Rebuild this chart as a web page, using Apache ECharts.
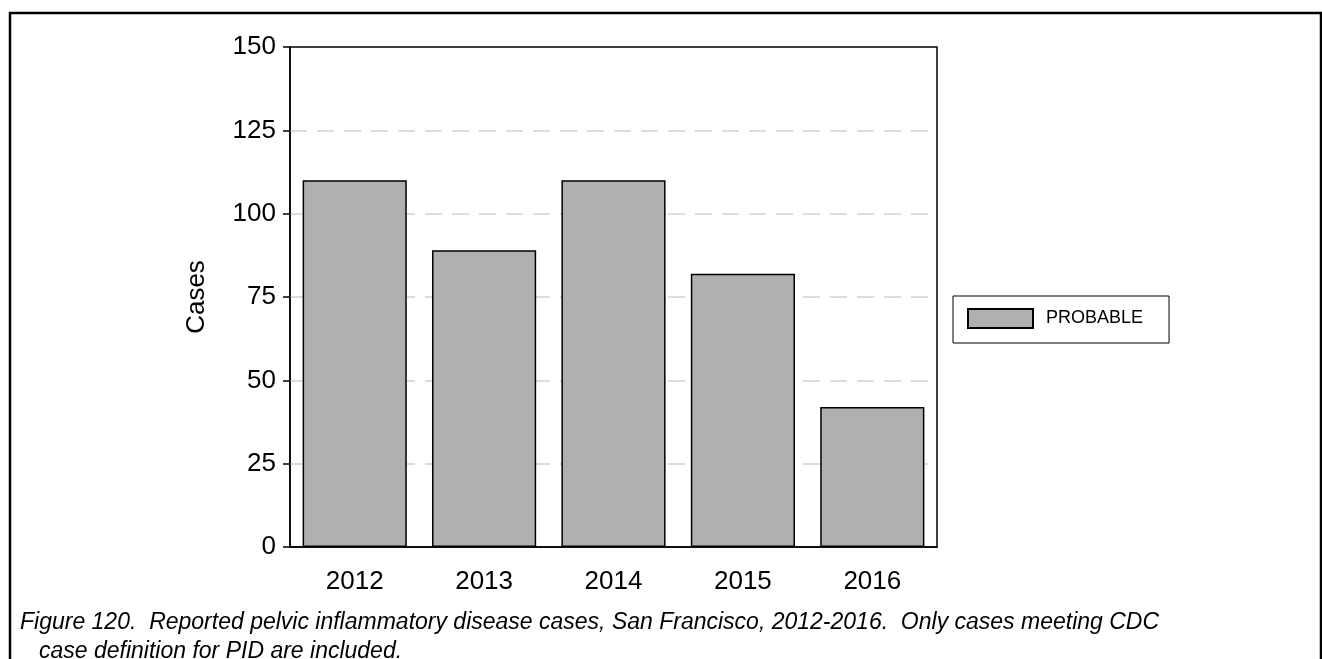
<!DOCTYPE html>
<html>
<head>
<meta charset="utf-8">
<script src="https://cdn.jsdelivr.net/npm/echarts@6/dist/echarts.min.js"></script>
<style>
html,body{margin:0;padding:0;background:#fff;}
#chart{width:1322px;height:659px;}
</style>
</head>
<body>
<div id="chart"></div>
<script>
const years = ['2012', '2013', '2014', '2015', '2016'];
const probable = [110, 89, 110, 82, 42];
const yTicks = [0, 25, 50, 75, 100, 125, 150];
const seriesName = 'PROBABLE';
const yAxisTitle = 'Cases';
const captionLine1 = 'Figure 120.  Reported pelvic inflammatory disease cases, San Francisco, 2012-2016.  Only cases meeting CDC';
const captionLine2 = 'case definition for PID are included.';

const FONT = '"Liberation Sans", Arial, sans-serif';
const chart = echarts.init(document.getElementById('chart'), null, {renderer: 'canvas'});
chart.setOption({
  animation: false,
  backgroundColor: '#ffffff',
  textStyle: {fontFamily: FONT},
  grid: {
    left: 290, top: 47, width: 647, height: 500,
    show: true, borderColor: '#000', borderWidth: 1.5, backgroundColor: 'transparent'
  },
  legend: {
    data: [seriesName],
    left: 953, top: 296,
    orient: 'vertical',
    padding: [12, 26, 14, 14],
    borderColor: '#000', borderWidth: 1,
    itemWidth: 65, itemHeight: 19,
    icon: 'rect',
    textStyle: {fontFamily: FONT, fontSize: 18, color: '#000', padding: [0, 0, 0, 8]}
  },
  xAxis: {
    type: 'category',
    data: years,
    axisLine: {show: true, lineStyle: {color: '#000', width: 1.5}},
    axisTick: {show: false},
    axisLabel: {fontFamily: FONT, fontSize: 26, color: '#000', margin: 22},
    splitLine: {show: false}
  },
  yAxis: {
    type: 'value',
    min: yTicks[0], max: yTicks[yTicks.length - 1], interval: 25,
    name: yAxisTitle,
    nameLocation: 'middle',
    nameGap: 80,
    nameTextStyle: {fontFamily: FONT, fontSize: 26, color: '#000'},
    axisLine: {show: true, lineStyle: {color: '#000', width: 1.5}},
    axisTick: {show: true, length: 7, lineStyle: {color: '#000', width: 1.5}},
    axisLabel: {fontFamily: FONT, fontSize: 26, color: '#000', margin: 14},
    splitLine: {show: true, showMinLine: false, showMaxLine: false,
                lineStyle: {color: '#dcdcdc', width: 2, type: [17, 10]}}
  },
  series: [{
    name: seriesName,
    type: 'bar',
    data: probable,
    barCategoryGap: '19.5%',
    itemStyle: {color: '#b0b0b0', borderColor: '#000', borderWidth: 1.5}
  }],
  graphic: [
    {type: 'rect', shape: {x: 10, y: 13, width: 1311, height: 700},
     style: {fill: 'none', stroke: '#000', lineWidth: 2.5}, silent: true},
    {type: 'text', x: 20, y: 611,
     style: {text: captionLine1, font: 'italic 23px "Liberation Sans", Arial, sans-serif', fill: '#000', textVerticalAlign: 'top'}},
    {type: 'text', x: 39, y: 640,
     style: {text: captionLine2, font: 'italic 23px "Liberation Sans", Arial, sans-serif', fill: '#000', textVerticalAlign: 'top'}}
  ]
});
</script>
</body>
</html>
